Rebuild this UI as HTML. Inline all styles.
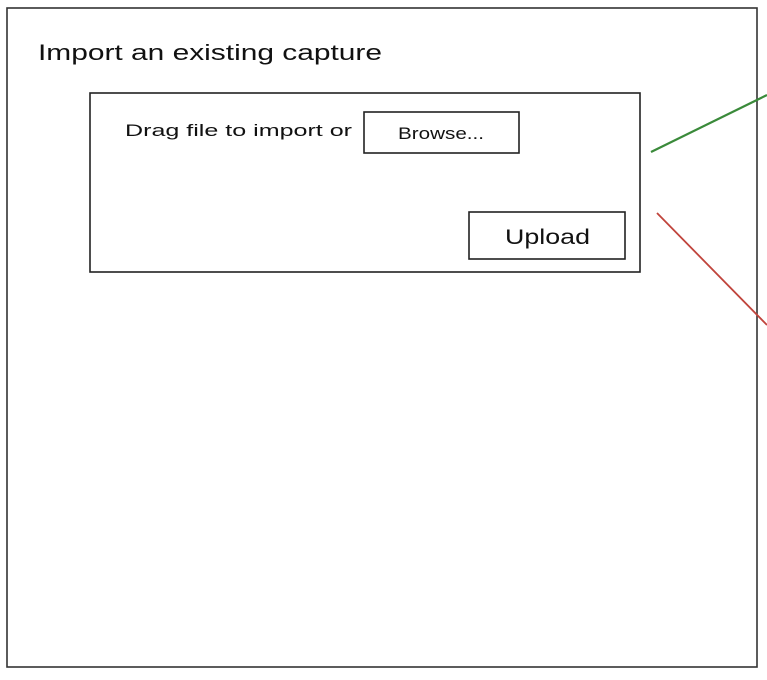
<!DOCTYPE html>
<html><head><style>
body{margin:0;width:767px;height:675px;background:#fff;overflow:hidden;font-family:"Liberation Sans",sans-serif;color:#111}
</style></head><body>
<svg width="767" height="675" xmlns="http://www.w3.org/2000/svg">
<rect x="7" y="8" width="750" height="659" fill="none" stroke="#333" stroke-width="1.6"/>
<text x="38" y="60" font-size="22" font-family="Liberation Sans" fill="#111" textLength="344" lengthAdjust="spacingAndGlyphs">Import an existing capture</text>
<rect x="90" y="93" width="550" height="179" fill="none" stroke="#222" stroke-width="1.6"/>
<text x="125" y="136" font-size="17" fill="#111" textLength="227" lengthAdjust="spacingAndGlyphs">Drag file to import or</text>
<rect x="364" y="112" width="155" height="41" fill="none" stroke="#222" stroke-width="1.6"/>
<text x="398" y="139" font-size="17" fill="#111" textLength="86" lengthAdjust="spacingAndGlyphs">Browse...</text>
<rect x="469" y="212" width="156" height="47" fill="none" stroke="#222" stroke-width="1.6"/>
<text x="505" y="244" font-size="21" fill="#111" textLength="85" lengthAdjust="spacingAndGlyphs">Upload</text>
<line x1="651" y1="152" x2="767" y2="95" stroke="#3a8a3a" stroke-width="2.2"/>
<line x1="657" y1="213" x2="767" y2="325" stroke="#c0443c" stroke-width="1.8"/>
</svg>
</body></html>
